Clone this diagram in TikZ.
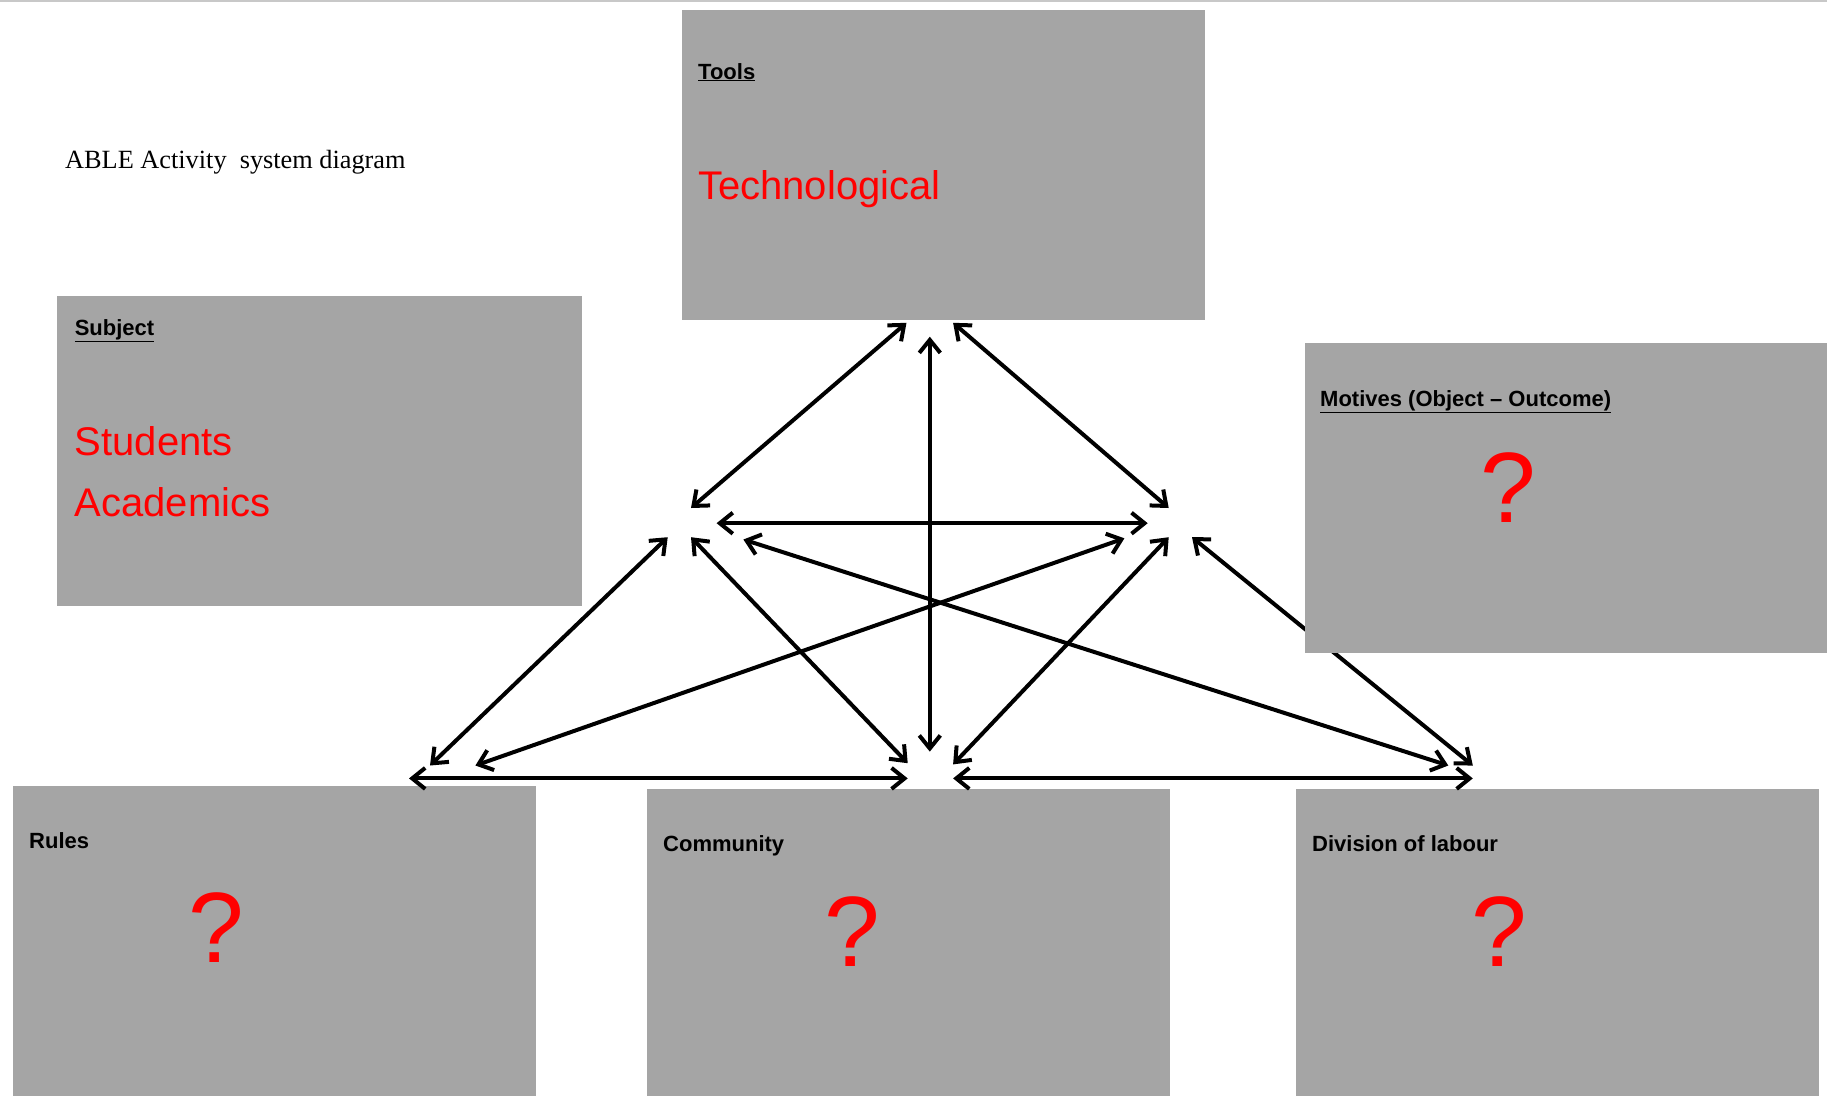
\documentclass[tikz,border=0pt]{standalone}
\usepackage{fontspec}
\setmainfont{Liberation Sans}
\newfontfamily\titleface{Liberation Serif}
\usetikzlibrary{arrows.meta}
\definecolor{boxgray}{RGB}{165,165,165}
\definecolor{rulegray}{RGB}{200,200,200}
\definecolor{qred}{RGB}{255,0,0}
\begin{document}
\begin{tikzpicture}[x=1pt,y=-1pt,
  panel/.style={fill=boxgray, draw=none, inner sep=0pt, anchor=north west,
                minimum width=523pt, minimum height=310pt},
  heading/.style={anchor=base west, inner sep=0pt, font=\fontsize{22}{26}\selectfont\bfseries},
  entry/.style={anchor=base west, inner sep=0pt, text=qred, font=\fontsize{40}{46}\selectfont},
  query/.style={anchor=base, inner sep=0pt, text=qred, font=\fontsize{100}{110}\selectfont},
  barb/.tip={Straight Barb[length=13pt,width=21pt,line width=4pt]},
  link/.style={line width=4pt, black, barb-barb}
]
\useasboundingbox (0,0) rectangle (1827,1096);
\fill[white] (0,0) rectangle (1827,1096);
\draw[rulegray, line width=2pt] (0,1) -- (1827,1);

% title
\node[anchor=base west, inner sep=0pt, font=\titleface\fontsize{26.3}{31}\selectfont] (title) at (65,168.5) {ABLE Activity\ \ system diagram};

% boxes that sit behind the connectors
\node[panel] (tools) at (681.6,9.3) {};
\node[panel, minimum width=524.3pt] (subject) at (57.1,296) {};
\node[panel] (rules) at (12.8,785.3) {};
\node[panel, minimum height=307.2pt] (community) at (646.7,788.8) {};
\node[panel, minimum height=307.2pt] (division) at (1295.7,788.8) {};

% connector end points
\coordinate (tA) at (906.5,322.8);
\coordinate (tB) at (929.8,336.7);
\coordinate (tC) at (953.1,322.8);
\coordinate (mL1) at (691.0,508.0);
\coordinate (mR1) at (1168.7,508.0);
\coordinate (hL) at (716.6,523.2);
\coordinate (hR) at (1147.7,523.2);
\coordinate (mL2) at (667.7,537.2);
\coordinate (mL3) at (691.0,537.2);
\coordinate (mL4) at (743.4,539.5);
\coordinate (mR2) at (1124.4,538.3);
\coordinate (mR3) at (1168.7,537.2);
\coordinate (mR4) at (1192.0,537.2);
\coordinate (bL1) at (430.0,765.5);
\coordinate (bL2) at (475.4,765.5);
\coordinate (bC1) at (907.7,763.2);
\coordinate (bC) at (929.8,751.6);
\coordinate (bC2) at (953.1,764.4);
\coordinate (bR1) at (1448.3,765.5);
\coordinate (bR2) at (1472.8,765.5);
\coordinate (hbL1) at (409.0,778.4);
\coordinate (hbL2) at (907.7,778.4);
\coordinate (hbR1) at (953.1,778.4);
\coordinate (hbR2) at (1472.8,778.4);

% connectors
\draw[link] (tA) -- (mL1);
\draw[link] (tB) -- (bC);
\draw[link] (tC) -- (mR1);
\draw[link] (hL) -- (hR);
\draw[link] (mL2) -- (bL1);
\draw[link] (mL3) -- (bC1);
\draw[link] (mL4) -- (bR1);
\draw[link] (mR2) -- (bL2);
\draw[link] (mR3) -- (bC2);
\draw[link] (mR4) -- (bR2);
\draw[link] (hbL1) -- (hbL2);
\draw[link] (hbR1) -- (hbR2);

% motives box lies over one connector
\node[panel, minimum width=522pt] (motives) at (1305,342.6) {};

% box texts
\node[heading] (toolsT) at (698,79) {\underline{Tools}};
\node[entry] (techT) at (698,199) {Technological};

\node[heading] (subjT) at (74.6,335.6) {\underline{Subject}};
\node[entry] (studT) at (74.6,455.6) {Students};
\node[entry] (acadT) at (74.6,516) {Academics};

\node[heading] (motT) at (1320,406.7) {\underline{Motives (Object -- Outcome)}};
\node[query] (motQ) at (1507.8,522) {?};

\node[heading] (rulesT) at (29,848.3) {Rules};
\node[query] (rulesQ) at (216.7,962.5) {?};

\node[heading] (commT) at (663,851.8) {Community};
\node[query] (commQ) at (851.8,966) {?};

\node[heading] (divT) at (1312,851.8) {Division of labour};
\node[query] (divQ) at (1499.6,966) {?};
\end{tikzpicture}
\end{document}
